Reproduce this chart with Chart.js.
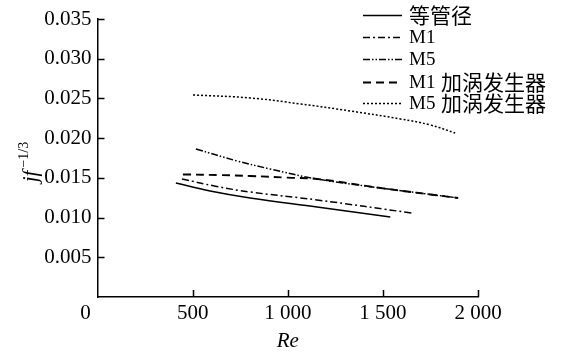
<!DOCTYPE html>
<html>
<head>
<meta charset="utf-8">
<script src="https://cdn.jsdelivr.net/npm/chart.js@4.4.1/dist/chart.umd.min.js"></script>
<style>
  html, body { margin: 0; padding: 0; background: #fff; }
  #wrap { width: 561px; height: 354px; }
</style>
</head>
<body>
<div id="wrap"><canvas id="c" width="561" height="354"></canvas></div>
<script>
// Reynolds number samples and j·f^(-1/3) values for each tube configuration
const seriesNames = ['等管径', 'M1', 'M5', 'M1 加涡发生器', 'M5 加涡发生器'];

const reEqual = [412, 592, 802, 1154, 1539];
const jfEqual = [0.01436, 0.01335, 0.01247, 0.01133, 0.01008];

const reM1 = [444, 620, 802, 1154, 1650];
const jfM1 = [0.01486, 0.01395, 0.01322, 0.01222, 0.01058];

const reM5 = [517, 733, 907, 1154, 1486, 1896];
const jfM5 = [0.01864, 0.01713, 0.01612, 0.01486, 0.01373, 0.01247];

const reM1V = [449, 650, 802, 1000, 1154, 1486, 1896];
const jfM1V = [0.01543, 0.01535, 0.01524, 0.01503, 0.01486, 0.01373, 0.01247];

const reM5V = [502, 802, 1065, 1328, 1591, 1749, 1880];
const jfM5V = [0.02544, 0.02506, 0.02431, 0.02342, 0.02242, 0.02166, 0.02065];

const xTickValues = [0, 500, 1000, 1500, 2000];
const xTickLabels = ['0', '500', '1 000', '1 500', '2 000'];
const yTickValues = [0, 0.005, 0.010, 0.015, 0.020, 0.025, 0.030, 0.035];
const yTickLabels = ['', '0.005', '0.010', '0.015', '0.020', '0.025', '0.030', '0.035'];

const SERIF = '"Liberation Serif", "Noto Sans CJK SC", serif';
const CJK = '"Noto Sans CJK SC", sans-serif';

function pts(xs, ys) { return xs.map((x, i) => ({ x: x, y: ys[i] })); }

const styles = [
  { dash: [], width: 1.6 },
  { dash: [7, 3, 2, 3], width: 1.5 },
  { dash: [7, 2, 1.5, 2, 1.5, 2], width: 1.5 },
  { dash: [8, 5], width: 1.9 },
  { dash: [2, 2], width: 1.5 }
];
const seriesData = [
  pts(reEqual, jfEqual), pts(reM1, jfM1), pts(reM5, jfM5), pts(reM1V, jfM1V), pts(reM5V, jfM5V)
];

const datasets = seriesData.map((d, i) => ({
  label: seriesNames[i],
  data: d,
  borderColor: '#000',
  borderWidth: styles[i].width,
  borderDash: styles[i].dash,
  pointRadius: 0,
  fill: false,
  tension: 0.4
}));

// Inward tick marks, origin label, rotated y title and legend
const decorations = {
  id: 'decorations',
  afterDraw(chart) {
    const ctx = chart.ctx;
    const xs = chart.scales.x, ys = chart.scales.y;
    const area = chart.chartArea;
    ctx.save();
    ctx.strokeStyle = '#000';
    ctx.lineWidth = 1.5;
    ctx.setLineDash([]);
    ctx.beginPath();
    xTickValues.forEach(v => {
      if (v === 0) return;
      const px = Math.round(xs.getPixelForValue(v)) + 0.5;
      ctx.moveTo(px, area.bottom);
      ctx.lineTo(px, area.bottom - 7);
    });
    yTickValues.forEach(v => {
      if (v === 0) return;
      const py = Math.round(ys.getPixelForValue(v)) + 0.5;
      ctx.moveTo(area.left, py);
      ctx.lineTo(area.left + 7, py);
    });
    ctx.stroke();

    // common origin label
    ctx.fillStyle = '#000';
    ctx.font = '21px ' + SERIF;
    ctx.textAlign = 'center';
    ctx.textBaseline = 'middle';
    ctx.fillText(xTickLabels[0], area.left - 12, area.bottom + 16);

    // y title: jf^(-1/3)
    ctx.save();
    ctx.translate(31, 162);
    ctx.rotate(-Math.PI / 2);
    ctx.textAlign = 'left';
    ctx.textBaseline = 'alphabetic';
    ctx.font = 'italic 21px ' + SERIF;
    const main = 'jf';
    const sup = '\u22121/3';
    const mw = ctx.measureText(main).width;
    ctx.font = '14px ' + SERIF;
    const sw = ctx.measureText(sup).width;
    const start = -(mw + sw + 3) / 2;
    ctx.font = 'italic 21px ' + SERIF;
    ctx.fillText(main, start, 6);
    ctx.font = '14px ' + SERIF;
    ctx.fillText(sup, start + mw + 3, -3);
    ctx.restore();

    // legend: Latin part in serif, Chinese part in CJK face
    const rowsY = [15, 37, 59, 82, 103];
    chart.data.datasets.forEach((ds, i) => {
      const y = rowsY[i] + 0.5;
      ctx.beginPath();
      ctx.lineWidth = ds.borderWidth;
      ctx.setLineDash(ds.borderDash);
      ctx.moveTo(363, y);
      ctx.lineTo(402, y);
      ctx.stroke();
      ctx.setLineDash([]);
      ctx.textAlign = 'left';
      ctx.textBaseline = 'middle';
      const m = ds.label.match(/^([A-Za-z0-9]*)\s*(.*)$/);
      const latin = m[1], han = m[2];
      let x = 409;
      if (latin) {
        ctx.font = '19px ' + SERIF;
        ctx.fillText(latin, x, y + 1);
        x = 441;
      }
      if (han) {
        ctx.font = '21px ' + CJK;
        ctx.fillText(han, x, y);
      }
    });
    ctx.restore();
  }
};

new Chart(document.getElementById('c'), {
  type: 'line',
  data: { datasets: datasets },
  plugins: [decorations],
  options: {
    responsive: false,
    animation: false,
    devicePixelRatio: 1,
    layout: { padding: { left: 0, right: 83, top: 19, bottom: 0 } },
    plugins: { legend: { display: false }, tooltip: { enabled: false } },
    scales: {
      x: {
        type: 'linear',
        min: 0, max: 2000,
        afterBuildTicks: s => { s.ticks = xTickValues.map(v => ({ value: v })); },
        afterFit: s => { s.height = 57; },
        grid: { display: false, drawTicks: false },
        border: { display: true, color: '#000', width: 1.5 },
        ticks: {
          color: '#000',
          font: { family: SERIF, size: 21 },
          padding: 4,
          maxRotation: 0,
          autoSkip: false,
          callback: (v) => { const i = xTickValues.indexOf(v); return i > 0 ? xTickLabels[i] : ''; }
        },
        title: {
          display: true,
          text: 'Re',
          color: '#000',
          font: { family: SERIF, size: 21, style: 'italic' },
          padding: { top: 8, bottom: 0 }
        }
      },
      y: {
        type: 'linear',
        min: 0, max: 0.035,
        afterBuildTicks: s => { s.ticks = yTickValues.map(v => ({ value: v })); },
        afterFit: s => { s.width = 97.5; },
        grid: { display: false, drawTicks: false },
        border: { display: true, color: '#000', width: 1.5 },
        ticks: {
          color: '#000',
          font: { family: SERIF, size: 21 },
          padding: 6,
          autoSkip: false,
          callback: (v) => { const i = yTickValues.findIndex(t => Math.abs(t - v) < 1e-9); return i >= 0 ? yTickLabels[i] : ''; }
        }
      }
    }
  }
});
</script>
</body>
</html>
